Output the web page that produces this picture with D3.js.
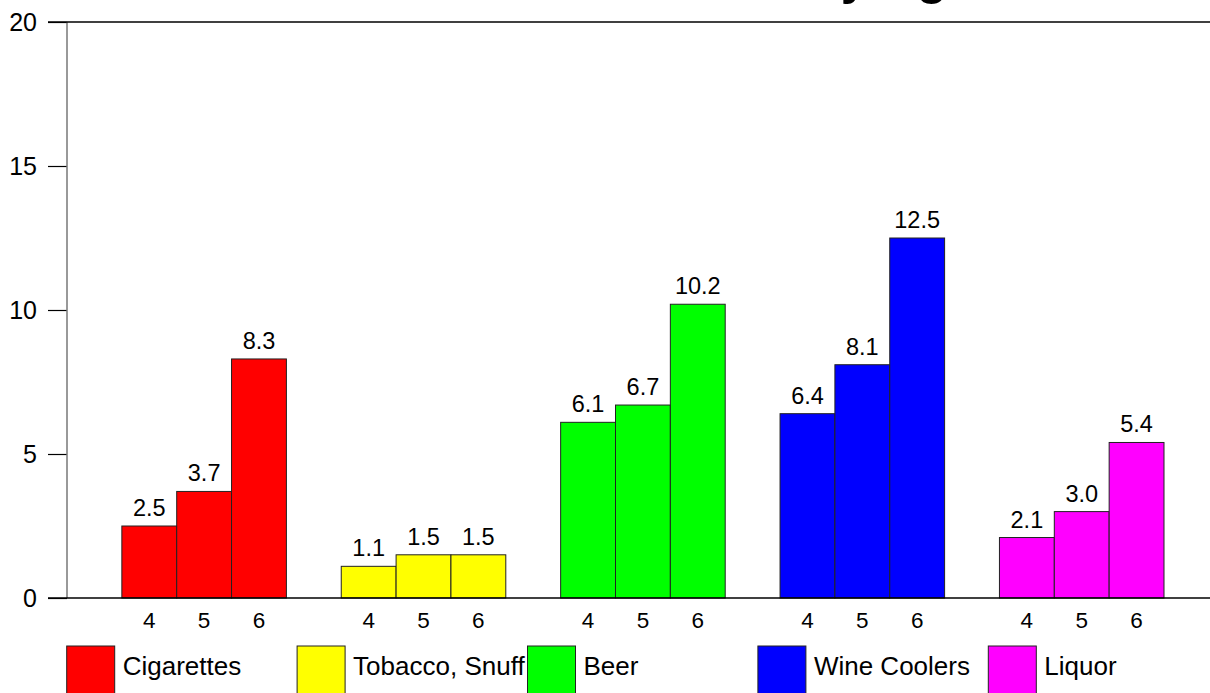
<!DOCTYPE html>
<html>
<head>
<meta charset="utf-8">
<script src="https://cdn.jsdelivr.net/npm/d3@7"></script>
<style>
  html, body { margin: 0; padding: 0; background: #fff; }
  svg { display: block; font-family: "Liberation Sans", Arial, sans-serif; }
</style>
</head>
<body>
<svg id="chart" width="1210" height="693"></svg>
<script>
const categories = ["Cigarettes", "Tobacco, Snuff", "Beer", "Wine Coolers", "Liquor"];
const ages = ["4", "5", "6"];
const cigarettes = [2.5, 3.7, 8.3];
const tobaccoSnuff = [1.1, 1.5, 1.5];
const beer = [6.1, 6.7, 10.2];
const wineCoolers = [6.4, 8.1, 12.5];
const liquor = [2.1, 3.0, 5.4];
const seriesValues = [cigarettes, tobaccoSnuff, beer, wineCoolers, liquor];
const yTicks = [0, 5, 10, 15, 20];
const colors = ["#ff0000", "#ffff00", "#00ff00", "#0000ff", "#ff00ff"];
const title = "Current Substance Use by Age";

const svg = d3.select("#chart");
const x0 = 67, x1 = 1164, yTop = 22, yBot = 598;

const y = d3.scaleLinear().domain([0, 20]).range([yBot, yTop]);
const xCat = d3.scaleBand().domain(categories).range([x0, x1]).padding(0);
const bw = xCat.bandwidth();
const xAge = d3.scaleBand().domain(ages).range([bw / 4, bw]).padding(0);

// Title (mostly clipped above the page, as in the original)
svg.append("text")
  .attr("x", 975).attr("y", -6)
  .attr("text-anchor", "end")
  .attr("font-size", 50).attr("font-weight", "bold")
  .attr("fill", "#000")
  .text(title);

// Bars
const groups = svg.append("g").selectAll("g")
  .data(categories.map((c, i) => ({ c, i, vals: seriesValues[i] })))
  .join("g")
  .attr("transform", d => `translate(${xCat(d.c)},0)`);

groups.selectAll("rect")
  .data(d => d.vals.map((v, j) => ({ v, age: ages[j], color: colors[d.i] })))
  .join("rect")
  .attr("x", d => xAge(d.age))
  .attr("y", d => y(d.v))
  .attr("width", xAge.bandwidth())
  .attr("height", d => yBot - y(d.v))
  .attr("fill", d => d.color)
  .attr("stroke", "#222")
  .attr("stroke-width", 1);

groups.selectAll("text.val")
  .data(d => d.vals.map((v, j) => ({ v, age: ages[j] })))
  .join("text")
  .attr("class", "val")
  .attr("x", d => xAge(d.age) + xAge.bandwidth() / 2)
  .attr("y", d => y(d.v) - 10)
  .attr("text-anchor", "middle")
  .attr("font-size", 23.5)
  .attr("fill", "#000")
  .text(d => d.v.toFixed(1));

groups.selectAll("text.age")
  .data(ages)
  .join("text")
  .attr("class", "age")
  .attr("x", d => xAge(d) + xAge.bandwidth() / 2)
  .attr("y", 628)
  .attr("text-anchor", "middle")
  .attr("font-size", 22.5)
  .attr("fill", "#000")
  .text(d => d);

// Y axis
const yAxis = d3.axisLeft(y).tickValues(yTicks).tickSize(19).tickPadding(11).tickFormat(d3.format("d"));
const ya = svg.append("g").attr("transform", `translate(${x0},0)`).call(yAxis);
ya.select(".domain").remove();
ya.selectAll(".tick line").attr("stroke", "#000").attr("stroke-width", 1.2);
ya.selectAll(".tick text").attr("font-size", 25).attr("font-family", "Liberation Sans, Arial, sans-serif").attr("fill", "#000");

// Vertical axis line
svg.append("line").attr("x1", x0).attr("x2", x0).attr("y1", yTop).attr("y2", yBot)
  .attr("stroke", "#777").attr("stroke-width", 1.5);
// Top and bottom lines
svg.append("line").attr("x1", 48).attr("x2", 1210).attr("y1", yTop).attr("y2", yTop)
  .attr("stroke", "#000").attr("stroke-width", 1.5);
svg.append("line").attr("x1", 48).attr("x2", 1210).attr("y1", yBot).attr("y2", yBot)
  .attr("stroke", "#000").attr("stroke-width", 1.5);

// Legend
const legStep = 230.4, legX = 66.7, legY = 646;
const leg = svg.append("g").selectAll("g")
  .data(categories)
  .join("g")
  .attr("transform", (d, i) => `translate(${legX + i * legStep},${legY})`);
leg.append("rect")
  .attr("width", 48).attr("height", 60)
  .attr("fill", (d, i) => colors[i])
  .attr("stroke", "#222").attr("stroke-width", 1);
leg.append("text")
  .attr("x", 56).attr("y", 29)
  .attr("font-size", 26)
  .attr("fill", "#000")
  .text(d => d);
</script>
</body>
</html>
